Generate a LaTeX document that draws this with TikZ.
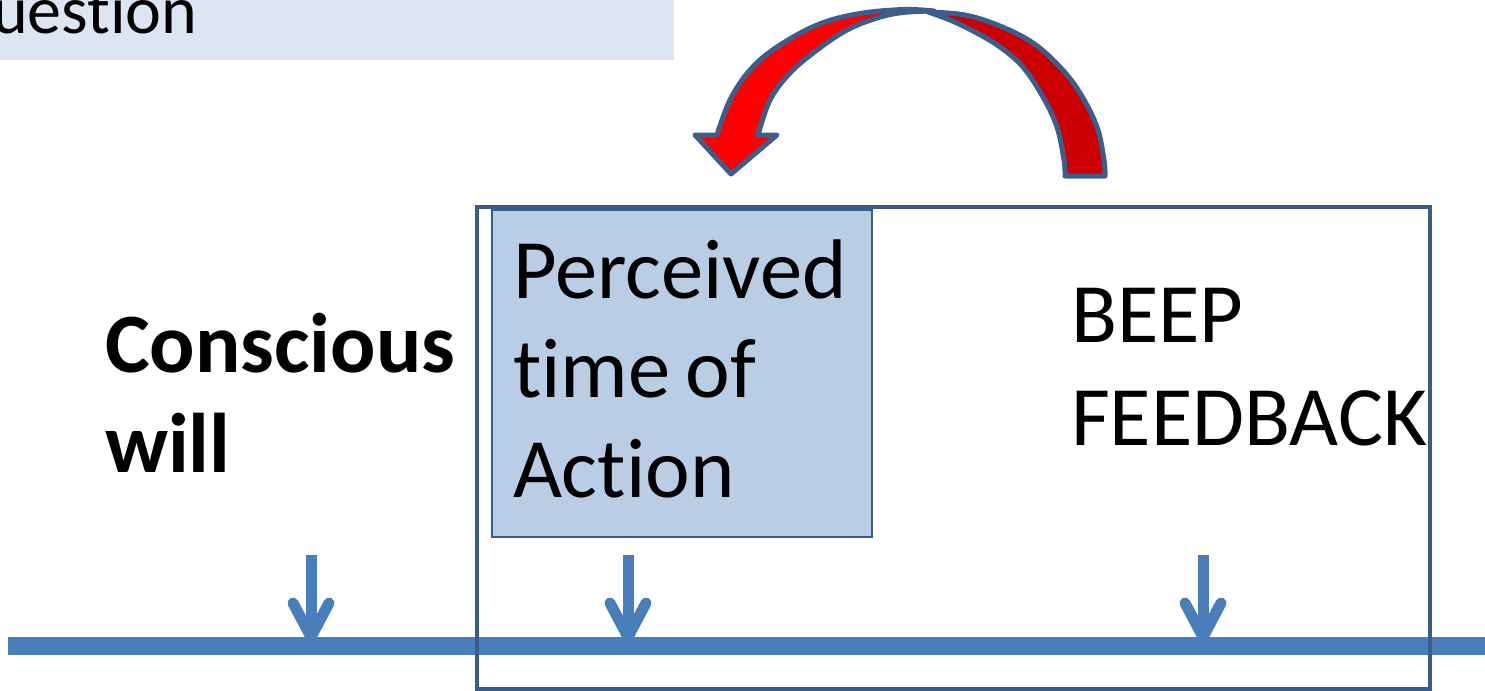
\documentclass[tikz,border=0pt]{standalone}
\usepackage{fontspec}
\setmainfont{Carlito}[Ligatures={NoCommon,NoRequired,NoContextual}]
\definecolor{tl}{HTML}{4A7EBB}
\definecolor{bd}{HTML}{385D8A}
\definecolor{pfill}{HTML}{B9CDE5}
\definecolor{qfill}{HTML}{DCE6F2}
\definecolor{redA}{HTML}{FF0000}
\definecolor{redB}{HTML}{CC0000}
\definecolor{arrline}{HTML}{3B5E8C}
\begin{document}
\begin{tikzpicture}[x=0.5pt,y=-0.5pt,
  lbl/.style={inner sep=0pt, outer sep=0pt, anchor=base west, align=left, text width=220pt},
  tickstem/.style={draw=tl, line width=5.5pt, line cap=butt},
  tickhead/.style={draw=tl, line width=5.5pt, line cap=round, line join=round},
  band/.style={draw=arrline, line width=2.5pt, line join=round}]
\useasboundingbox (0,0) rectangle (1485,691);
\clip (0,0) rectangle (1485,691);
\fill[white] (0,0) rectangle (1485,691);
% question banner
\fill[qfill] (-20,-20) rectangle (674,60);
\node[lbl, font=\fontsize{34}{40}\selectfont] (q) at (-8,33) {uest\kern0pt ion};
% timeline
\coordinate (tlL) at (8,646);
\coordinate (tlR) at (1500,646);
\draw[tl, line width=9pt] (tlL) -- (tlR);
% tick arrows
\foreach \n/\x in {a/311,b/628,c/1203}{
  \coordinate (top\n) at (\x,555);
  \coordinate (tip\n) at (\x,637);
  \coordinate (la\n) at (\x-18,603);
  \coordinate (ra\n) at (\x+18,603);
  \draw[tickstem] (top\n) -- (tip\n);
  \draw[tickhead] (la\n) -- (tip\n) -- (ra\n);
}
% big frame
\node[draw=bd, line width=2pt, inner sep=0pt, outer sep=0pt,
      minimum width=476.5pt, minimum height=241pt] (frame) at (953.5,448) {};
% perceived box
\node[draw=bd, fill=pfill, line width=1pt, inner sep=0pt, outer sep=0pt,
      minimum width=190pt, minimum height=163.5pt] (pbox) at (682,373.5) {};
% texts
\node[lbl, font=\fontsize{42.3}{49.75}\selectfont] (perc) at (513,298) {Perceived\\t\kern0pt ime\hspace{7.5pt}of\\Act\kern0pt ion};
\node[lbl, font=\fontsize{42.3}{50}\selectfont\bfseries] (cw) at (105,372) {Conscious\\will};
\node[lbl, font=\fontsize{42.3}{51.5}\selectfont] (beep) at (1071,342) {BEEP\\FEEDBACK};
% curved arrow: back band (tail)
\path[band, fill=redB] (1105,176) -- (1065,176)
  -- plot[smooth, tension=0.6] coordinates {(1065,176) (1064,160) (1057,127) (1043,97) (1023,67) (1000,47) (975,32) (950,20) (928,12)}
  -- plot[smooth, tension=0.6] coordinates {(928,12) (965,15) (1000,26) (1033,43) (1060,67) (1080,93) (1097,127) (1104,160) (1105,176)}
  -- cycle;
% curved arrow: front band (head)
\path[band, fill=redA] (717,135) -- (695,135) -- (731,174) -- (777,135) -- (758,135)
  -- plot[smooth, tension=0.6] coordinates {(758,135) (770,100) (790,73) (817,50) (847,30) (877,18) (903,12.5) (934,11)}
  -- plot[smooth, tension=0.6] coordinates {(934,11) (903,9.5) (857,14) (817,25) (777,47) (750,70) (730,100) (717,135)}
  -- cycle;
\end{tikzpicture}
\end{document}
